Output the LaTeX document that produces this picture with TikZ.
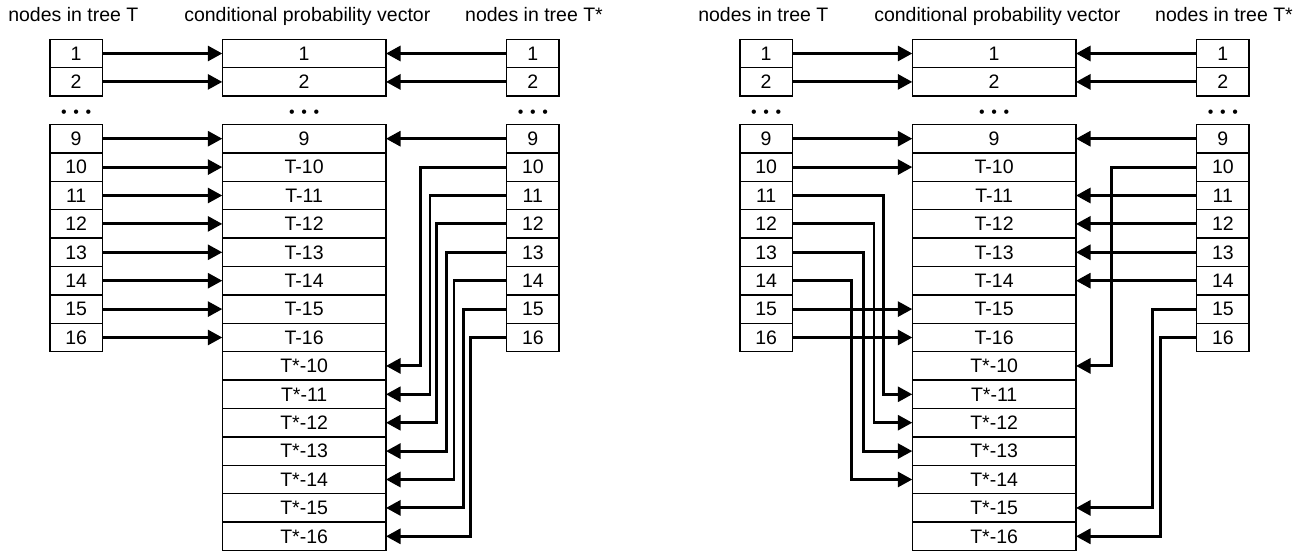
\documentclass[tikz,border=0pt]{standalone}
\usepackage{fontspec}
\setmainfont{Liberation Sans}
\usetikzlibrary{arrows.meta}
\newcommand\boxfont{\fontsize{19.5}{22}\selectfont}
\newcommand\dotfont{\fontsize{16}{17}\selectfont}
\begin{document}
\begin{tikzpicture}[x=1pt,y=-1pt,
  cell/.style={draw, line width=1.4pt, minimum height=28.4pt, inner sep=0pt, outer sep=0pt, font=\boxfont},
  sbox/.style={cell, minimum width=52.3pt},
  cbox/.style={cell, minimum width=163.7pt},
  conn/.style={line width=2.9pt, -{Triangle[length=14.5pt,width=15pt]}},
  ttl/.style={font=\boxfont, anchor=base, inner sep=0pt},
  ell/.style={font=\dotfont, anchor=base, inner sep=0pt}]
\useasboundingbox (0,0) rectangle (1304,552);
\foreach \p/\dx in {A/0,B/690}{
  % titles
  \node[ttl] (\p tl) at (73.3+\dx,21.7) {nodes in tree T};
  \node[ttl] (\p tc) at (307.3+\dx,21.7) {conditional probability vector};
  \node[ttl] (\p tr) at (534+\dx,21.7) {nodes in tree T*};
  % side boxes
  \foreach \n/\i in {1/0,2/1,9/3,10/4,11/5,12/6,13/7,14/8,15/9,16/10}{
    \node[sbox] (\p l\n) at (76.15+\dx,53.5+28.4*\i) {\n};
    \node[sbox] (\p r\n) at (532.85+\dx,53.5+28.4*\i) {\n};
  }
  % centre vector
  \foreach \n/\i in {1/0,2/1,9/3}{
    \node[cbox] (\p c\n) at (304.15+\dx,53.5+28.4*\i) {\n};
  }
  \foreach \n/\i in {10/4,11/5,12/6,13/7,14/8,15/9,16/10}{
    \node[cbox] (\p c\n) at (304.15+\dx,53.5+28.4*\i) {T-\n};
    \node[cbox] (\p s\n) at (304.15+\dx,53.5+28.4*\i+198.8) {T*-\n};
  }
  % ellipses
  \node[ell] (\p dl) at (76.15+\dx,117) {•\hspace{6.6pt}•\hspace{6.6pt}•};
  \node[ell] (\p dc) at (304.15+\dx,117) {•\hspace{6.6pt}•\hspace{6.6pt}•};
  \node[ell] (\p dr) at (532.85+\dx,117) {•\hspace{6.6pt}•\hspace{6.6pt}•};
}
% ---------- panel A ----------
\foreach \n in {1,2,9,10,11,12,13,14,15,16}{
  \draw[conn] (Al\n.east) -- (Ac\n.west);
}
\foreach \n in {1,2,9}{
  \draw[conn] (Ar\n.west) -- (Ac\n.east);
}
\foreach \n/\x in {10/420.7,11/430,12/436.7,13/446.7,14/454,15/463.3,16/470.7}{
  \coordinate (Av\n) at (\x,0);
  \draw[conn] (Ar\n.west) -| (Av\n |- As\n.east) -- (As\n.east);
}
% ---------- panel B ----------
\foreach \n in {1,2,9,10,15,16}{
  \draw[conn] (Bl\n.east) -- (Bc\n.west);
}
\foreach \n/\x in {11/883.3,12/874,13/863.3,14/851.3}{
  \coordinate (Bu\n) at (\x,0);
  \draw[conn] (Bl\n.east) -| (Bu\n |- Bs\n.west) -- (Bs\n.west);
}
\foreach \n in {1,2,9,11,12,13,14}{
  \draw[conn] (Br\n.west) -- (Bc\n.east);
}
\foreach \n/\x in {10/1111.7,15/1152.7,16/1160.7}{
  \coordinate (Bv\n) at (\x,0);
  \draw[conn] (Br\n.west) -| (Bv\n |- Bs\n.east) -- (Bs\n.east);
}
\end{tikzpicture}
\end{document}
